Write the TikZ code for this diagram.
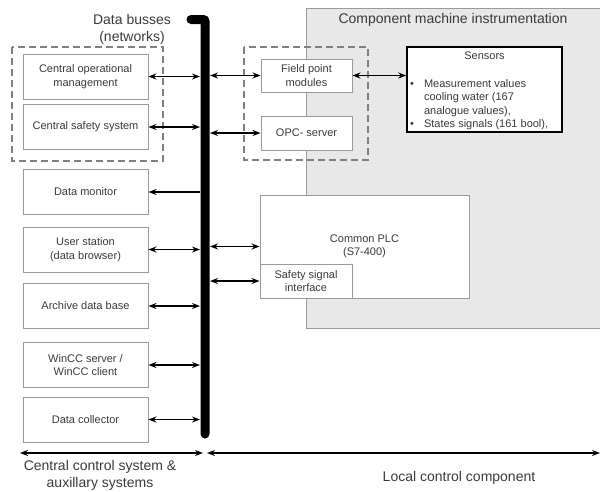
\documentclass[tikz,border=0pt]{standalone}
\usepackage{fontspec}
\setmainfont{Liberation Sans}
\usetikzlibrary{arrows.meta,positioning}

\definecolor{boxline}{HTML}{9A9A9A}
\definecolor{txtgray}{HTML}{3A3A3A}
\definecolor{regionfill}{HTML}{E8E8E8}

\tikzset{
  unitbox/.style={draw=boxline, line width=0.9pt, fill=white, text=txtgray, align=center,
    font=\fontsize{11}{13.5}\selectfont, inner sep=0pt},
  groupbox/.style={draw=gray, line width=1.1pt, dash pattern=on 7pt off 4pt},
  link/.style={{Stealth[length=8pt,width=6pt]}-{Stealth[length=8pt,width=6pt]}, line width=1.3pt},
  feed/.style={-{Stealth[length=8pt,width=6pt]}, line width=1.3pt},
  bigtext/.style={text=txtgray, align=center, font=\fontsize{14}{17}\selectfont},
}

\begin{document}
\begin{tikzpicture}[x=1pt,y=-1pt]
    \useasboundingbox (0,0) rectangle (600,491);

    % Draw the local instrumentation region
    \fill[regionfill] (306,8) rectangle (602,328);
    \draw[boxline, line width=0.9pt] (602,8) -- (306,8) -- (306,328) -- (602,328);
    \node[bigtext] (regiontitle) at (453,20) {Component machine instrumentation};

    % Draw the dashed group frames
    \draw[groupbox] (12,47) rectangle (163,161);
    \draw[groupbox] (244,47) rectangle (368,160);

    % Draw the data bus
    \draw[line width=9pt, line cap=round, rounded corners=2pt] (191,19.5) -- (205,19.5) -- (205,434);
    \coordinate (busL) at (200,0);
    \coordinate (busR) at (210,0);
    \node[bigtext] (bustitle) at (132,29) {Data busses\\(networks)};

    % Central boxes on the left of the bus
    \foreach \name/\y/\txt in {cop/76.5/{Central operational\\management}, csafe/127/{Central safety system},
        dmon/192/{Data monitor}, ustat/249.5/{User station\\(data browser)}, arch/306/{Archive data base},
        wincc/365/{WinCC server /\\WinCC client}, dcoll/419.5/{Data collector}}
        \node[unitbox, minimum width=125pt, minimum height=45pt] (\name) at (85.5,\y) {\txt};

    \foreach \name in {cop,csafe,ustat,arch,wincc,dcoll}
        \draw[link] (\name.east) -- (\name.east -| busL);
    \draw[feed] (dmon.east -| busL) -- (dmon.east); % one way only

    % Local boxes on the right of the bus
    \node[unitbox, minimum width=91pt, minimum height=33pt] (fpm) at (306.5,75.5) {Field point\\modules};
    \node[unitbox, minimum width=91pt, minimum height=34pt] (opc) at (306.5,133) {OPC- server};
    \node[unitbox, minimum width=209pt, minimum height=103pt] (plc) at (364.5,246.5) {Common PLC\\(S7-400)};
    \node[unitbox, minimum width=92pt, minimum height=34pt] (ssi) at (306,281) {Safety signal\\interface};

    \foreach \name in {fpm,opc,plc,ssi}
        \draw[link] (\name.west -| busR) -- (\name.west);

    % Sensors
    \node[draw=black, line width=1.5pt, fill=white, minimum width=155pt, minimum height=85pt,
        inner sep=0pt] (sens) at (484.5,89.5) {};
    \node[text=txtgray, font=\fontsize{11}{13.5}\selectfont] (senstitle) at (484.5,56) {Sensors};
    \node[anchor=north west, inner sep=0pt, text=txtgray, font=\fontsize{11}{13.5}\selectfont]
        (senslist) at (410,77.5) {%
        \begin{tabular}{@{}c@{\hspace{10pt}}l@{}}
            \textbullet & Measurement values\\
                        & cooling water (167\\
                        & analogue values),\\
            \textbullet & States signals (161 bool),
        \end{tabular}};
    \draw[link] (fpm.east) -- (sens.west |- fpm.east);

    % Bottom ranges
    \coordinate (leftend) at (20,453);
    \coordinate (midL) at (203,453);
    \coordinate (midR) at (207,453);
    \coordinate (rightend) at (600,453);
    \draw[link, line width=1.5pt] (leftend) -- (midL);
    \draw[link, line width=1.5pt] (midR) -- (rightend);
    \node[bigtext] (centrallabel) at (100,475.5) {Central control system \&\\auxillary systems};
    \node[bigtext] (locallabel) at (459,478) {Local control component};
\end{tikzpicture}
\end{document}
